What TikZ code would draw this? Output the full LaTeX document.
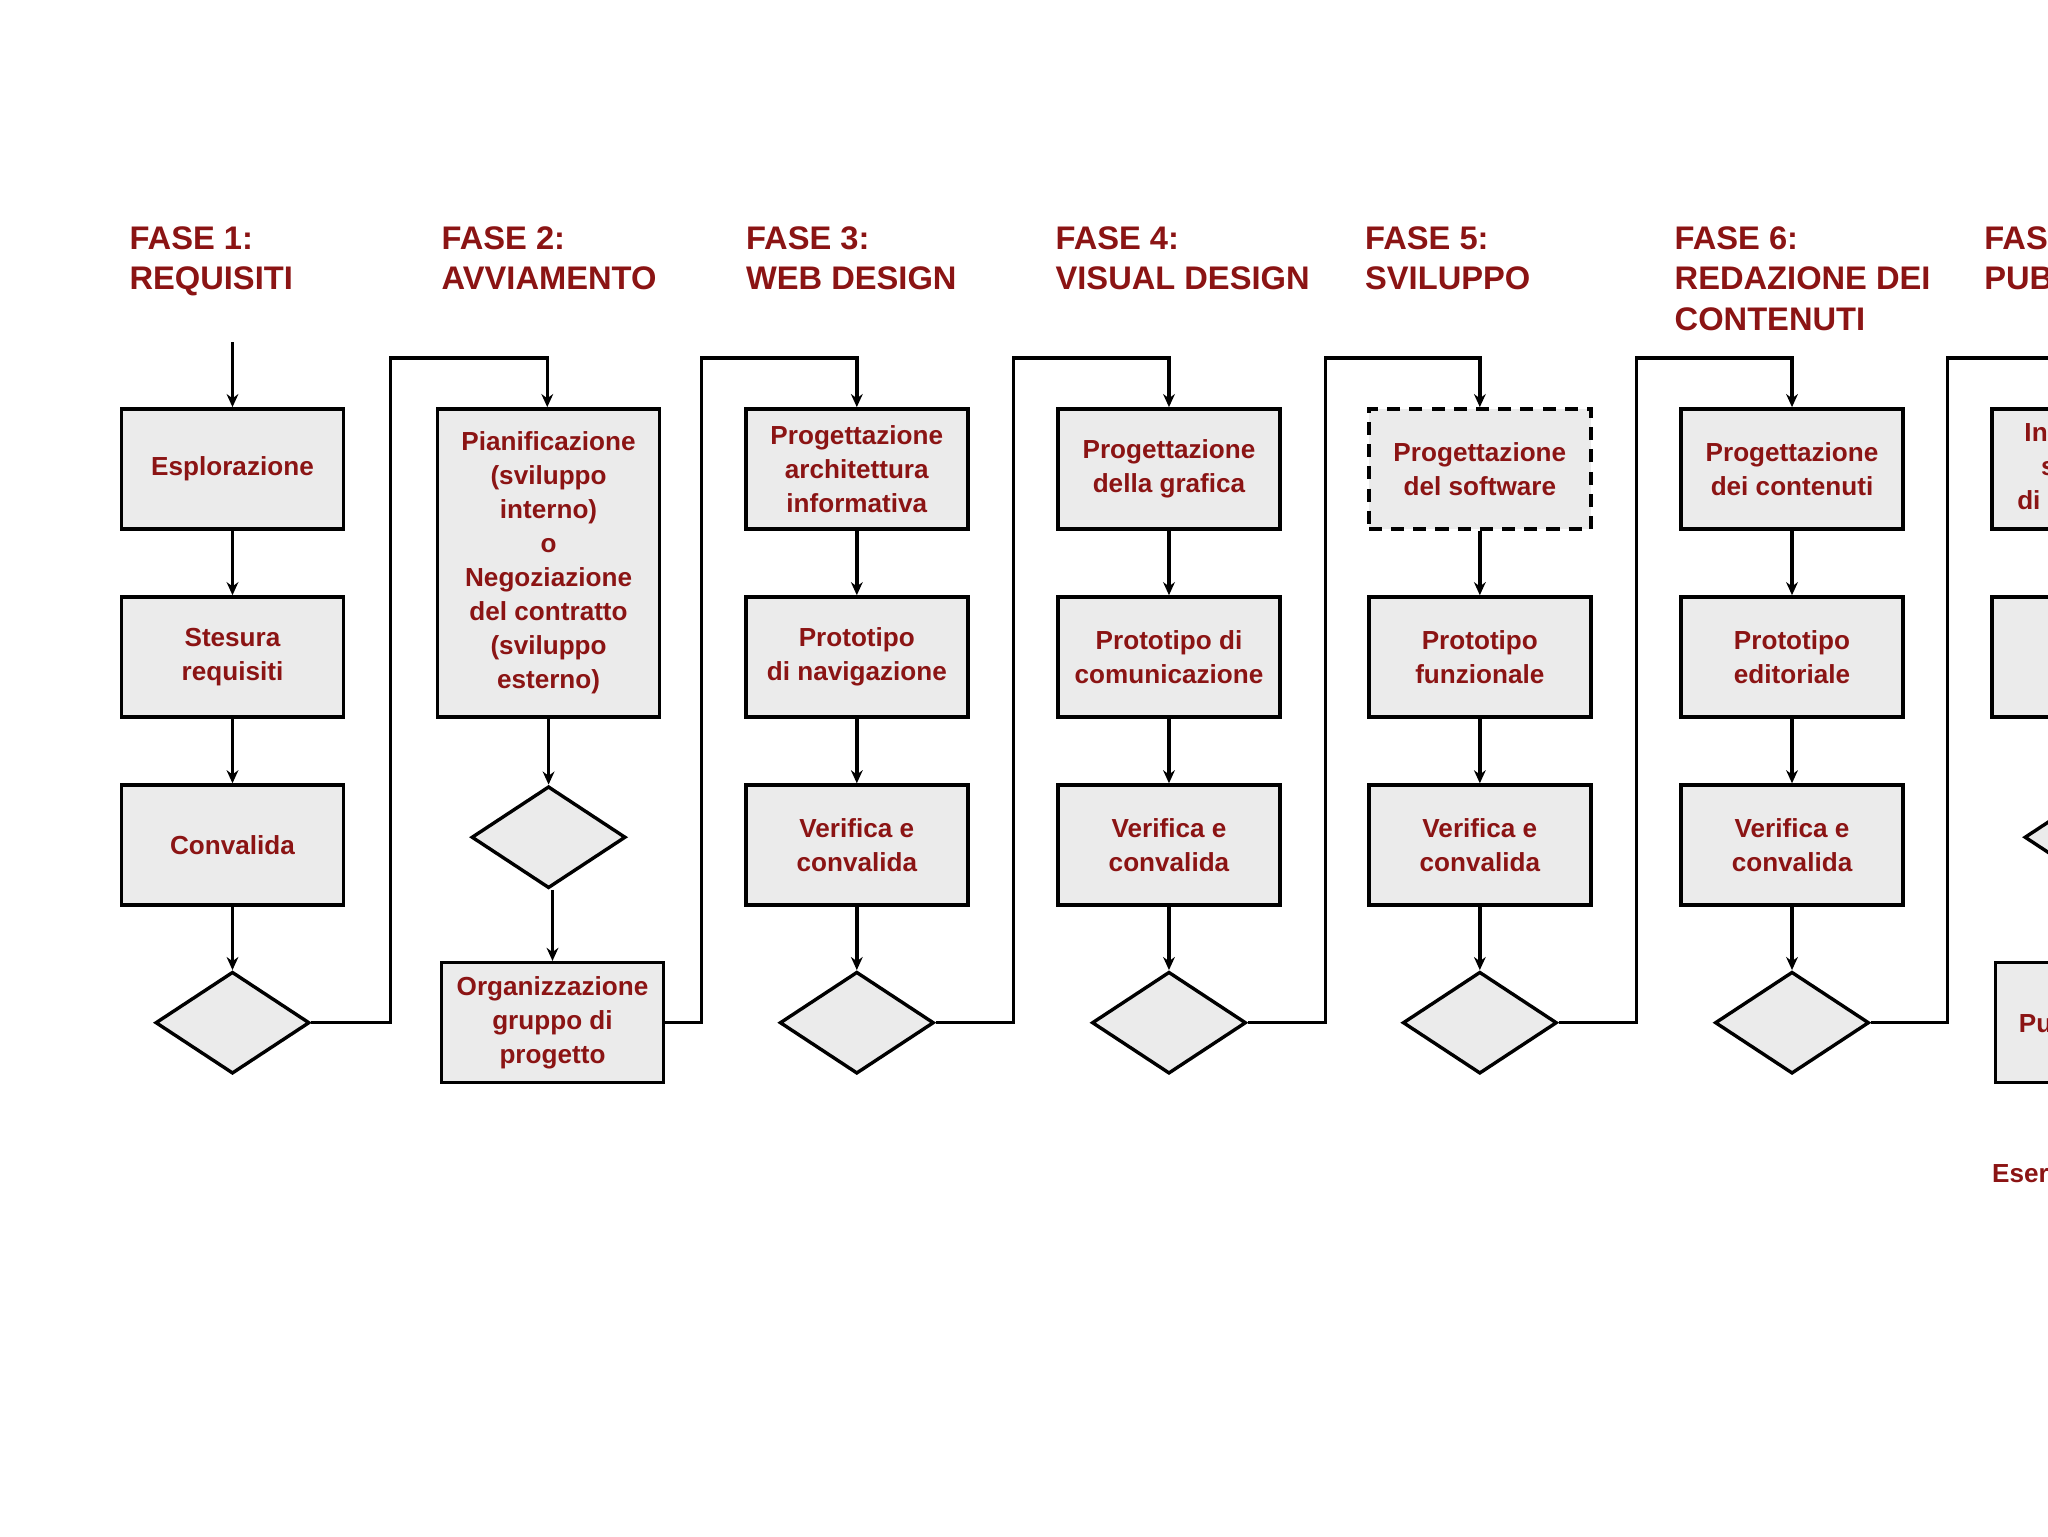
\documentclass[tikz,border=0pt]{standalone}
\usepackage{fontspec}
\setmainfont{Liberation Sans}
\usetikzlibrary{shapes.geometric,arrows.meta}
\definecolor{dred}{HTML}{8B1414}
\definecolor{bfill}{HTML}{EBEBEB}
\begin{document}
\begin{tikzpicture}[x=1pt,y=-1pt,
  box/.style={draw=black,line width=2.6pt,fill=bfill,minimum width=170pt,minimum height=92pt,inner sep=0pt,text=dred,align=center,font=\bfseries\fontsize{20}{26}\selectfont},
  dia/.style={draw=black,line width=2.6pt,fill=bfill,diamond,minimum width=118pt,minimum height=78pt,inner sep=0pt,aspect=1.5},
  title/.style={anchor=north west,text=dred,align=left,inner sep=0pt,font=\bfseries\fontsize{25}{31}\selectfont},
  con/.style={line width=2.6pt,-{Stealth[length=10pt,width=9pt]}},
  lin/.style={line width=2.6pt}]
\useasboundingbox (0,0) rectangle (1568,1176);
\fill[white] (0,0) rectangle (1568,1176);
\clip (0,0) rectangle (1568,1176);
% titles
\node[title] (t1) at (99,173) {FASE 1:\\REQUISITI};
\node[title] (t2) at (338,173) {FASE 2:\\AVVIAMENTO};
\node[title] (t3) at (571,173) {FASE 3:\\WEB DESIGN};
\node[title] (t4) at (808,173) {FASE 4:\\VISUAL DESIGN};
\node[title] (t5) at (1045,173) {FASE 5:\\SVILUPPO};
\node[title] (t6) at (1282,173) {FASE 6:\\REDAZIONE DEI\\CONTENUTI};
\node[title] (t7) at (1519,173) {FASE 7:\\PUBBLICAZIONE};
% phase 1
\coordinate (s1) at (178,262);
\node[box] (a1) at (178,359) {Esplorazione};
\node[box] (a2) at (178,503) {Stesura\\requisiti};
\node[box] (a3) at (178,647) {Convalida};
\node[dia] (ad) at (178,783) {};
\draw[con] (s1) -- (a1);
\draw[con] (a1) -- (a2);
\draw[con] (a2) -- (a3);
\draw[con] (a3) -- (ad);
% phase 2
\node[box,minimum height=236pt] (b1) at (420,431) {Pianificazione\\(sviluppo\\interno)\\o\\Negoziazione\\del contratto\\(sviluppo\\esterno)};
\node[dia] (bd) at (420,641) {};
\node[box] (b2) at (423,783) {Organizzazione\\gruppo di\\progetto};
\draw[con] (b1) -- (bd);
\draw[con] (bd.south -| b2) -- (b2);
\draw[con] (ad.east) -- (299,783) -- (299,274) -- (419,274) -- (b1.north -| 419,0);
% phases 3-6
\foreach \n/\x/\ta/\tb/\tc in {c/656/{Progettazione\\architettura\\informativa}/{Prototipo\\di navigazione}/{Verifica e\\convalida},
  d/895/{Progettazione\\della grafica}/{Prototipo di\\comunicazione}/{Verifica e\\convalida},
  f/1372/{Progettazione\\dei contenuti}/{Prototipo\\editoriale}/{Verifica e\\convalida}}{
  \node[box] (\n1) at (\x,359) {\ta};
  \node[box] (\n2) at (\x,503) {\tb};
  \node[box] (\n3) at (\x,647) {\tc};
  \node[dia] (\n d) at (\x,783) {};
  \draw[con] (\n1) -- (\n2);
  \draw[con] (\n2) -- (\n3);
  \draw[con] (\n3) -- (\n d);
}
\node[box,dashed,dash pattern=on 10pt off 7pt] (e1) at (1133,359) {Progettazione\\del software};
\node[box] (e2) at (1133,503) {Prototipo\\funzionale};
\node[box] (e3) at (1133,647) {Verifica e\\convalida};
\node[dia] (ed) at (1133,783) {};
\draw[con] (e1) -- (e2);
\draw[con] (e2) -- (e3);
\draw[con] (e3) -- (ed);
% phase 7
\node[box] (g1) at (1610,359) {Installazione\\sul server\\di produzione};
\node[box] (g2) at (1610,503) {Collaudo};
\node[dia] (gd) at (1609,641) {};
\node[box] (g3) at (1613,783) {Pubblicazione};
\node[anchor=west,text=dred,inner sep=0pt,font=\bfseries\fontsize{20}{24}\selectfont] (g4) at (1525,898) {Esercizio};
% links
\draw[con] (b2.east) -- (537,783) -- (537,274) -- (656,274) -- (c1);
\draw[con] (cd.east) -- (776,783) -- (776,274) -- (895,274) -- (d1);
\draw[con] (dd.east) -- (1015,783) -- (1015,274) -- (1133,274) -- (e1);
\draw[con] (ed.east) -- (1253,783) -- (1253,274) -- (1372,274) -- (f1);
\draw[con] (fd.east) -- (1491,783) -- (1491,274) -- (1610,274) -- (g1);
\end{tikzpicture}
\end{document}
